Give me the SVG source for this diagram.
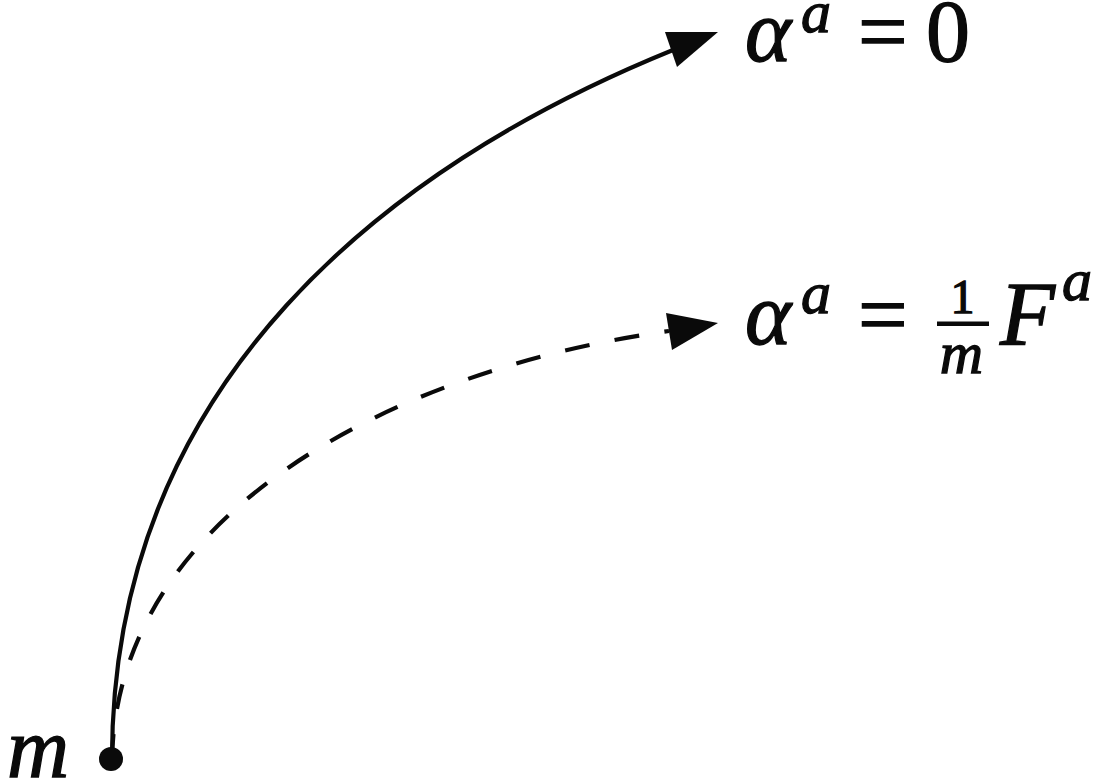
<svg xmlns="http://www.w3.org/2000/svg" width="1094" height="781" viewBox="0 0 1094 781">
<style>
.ln{fill:none;stroke:#0a0a0a;stroke-width:4.2}
.dash{stroke-dasharray:25 25.5}
.hd{fill:#0a0a0a;stroke:none}
text{font-family:'Liberation Serif','Times New Roman',Times,serif;fill:#0a0a0a;stroke:#0a0a0a;stroke-width:1.3}
.i{font-style:italic}
</style>
<rect width="1094" height="781" fill="#fff"/>
<g id="connectors">
<path class="ln" d="M112,759 C112,380 390,165 673,50"/>
<polygon class="hd" points="718,32 665,32 677,67"/>
<path class="ln dash" d="M112,759 C117,515 390,370 669,331"/>
<polygon class="hd" points="718,323 666,313 672,350"/>
</g>
<g id="node-m">
<circle cx="111" cy="759" r="12" fill="#0a0a0a"/>
<text class="i" x="7" y="777" font-size="86">m</text>
</g>
<g id="label-free">
<text class="i" x="745" y="61" font-size="88">α</text>
<text class="i" x="801" y="32" font-size="60">a</text>
<text x="858" y="61" font-size="88">=</text>
<text x="926" y="61" font-size="88">0</text>
</g>
<g id="label-force">
<text class="i" x="745" y="344" font-size="88">α</text>
<text class="i" x="801" y="313" font-size="60">a</text>
<text x="858" y="344" font-size="88">=</text>
<text x="962.5" y="313" font-size="48" text-anchor="middle">1</text>
<rect x="937" y="321.5" width="52" height="4.5" fill="#0a0a0a"/>
<text class="i" x="961.5" y="373" font-size="60" text-anchor="middle">m</text>
<text class="i" x="1000" y="345" font-size="90">F</text>
<text class="i" x="1062" y="300" font-size="60">a</text>
</g>
</svg>
